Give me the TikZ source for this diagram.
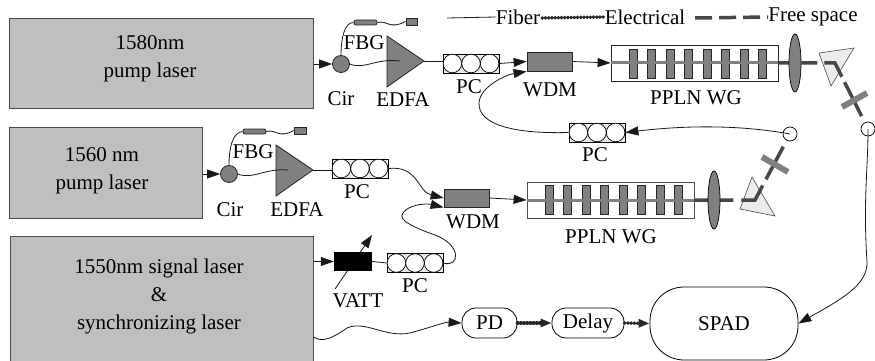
\documentclass[tikz,border=0pt]{standalone}
\usepackage{fontspec}
\setmainfont{Liberation Serif}
\usetikzlibrary{arrows.meta}
\usetikzlibrary{shapes.geometric}

\tikzset{
  every node/.style={inner sep=0pt,font=\fontsize{21}{28}\selectfont},
  laserbox/.style={draw=black!70,line width=0.7pt,fill=black!25,anchor=north west},
  part/.style={draw=black!85,line width=0.8pt,fill=black!50},
  stadium/.style={draw=black,line width=0.8pt,rounded corners=14pt},
  fiber/.style={draw=black!90,line width=0.8pt},
  fiberarrow/.style={fiber,-{Triangle[length=13pt,width=9pt]}},
  electrical/.style={draw=black!85,line width=3.4pt,line cap=round,dash pattern=on 0.6pt off 2.6pt,-{Triangle[length=11pt,width=8pt]}},
  freespace/.style={draw=black!72,line width=3.5pt},
  crossbar/.style={draw=black!50,line width=6pt},
  waveguide/.style={draw=black!50,line width=3pt},
  coupler/.style={circle,draw=black,line width=0.7pt,minimum size=14pt},
  prism/.style={draw=black!70,line width=0.6pt,fill=black!8},
  lens/.style={ellipse,draw=black,line width=0.7pt,fill=black!50,minimum width=12pt,minimum height=58pt}
}

\begin{document}
\begin{tikzpicture}[x=1pt,y=-1pt]
  % Boundary
  \useasboundingbox (0,0) rectangle (875,361);
  % Lasers
  \node[laserbox,minimum width=304pt,minimum height=90pt] (laserA) at (9,18) {};
  \node[laserbox,minimum width=193pt,minimum height=91pt] (laserB) at (9,127) {};
  \node[laserbox,minimum width=303pt,minimum height=125pt] (laserC) at (10,236) {};
  \node[align=center] (textA) at (150,58.5) {1580nm\\pump laser};
  \node[align=center] (textB) at (102,171) {1560 nm\\pump laser};
  \node[align=center] (textC) at (159,296) {1550nm signal laser\\\&\\synchronizing laser};
  % Polarization controllers
  \foreach \n/\x/\y in {pcA/471/63.5,pcB/597/132.5,pcC/360/168.5,pcD/415/263}{
    \node[draw=black,line width=0.7pt,fill=black!8,minimum width=56pt,minimum height=19pt] (\n) at (\x,\y) {};
    \foreach \k in {-18.6,0,18.6}
      \draw[line width=0.7pt,fill=white] (\x+\k,\y) circle (9.3);
  }
  % Amplifiers
  \filldraw[part] (387,36) -- (387,87) -- (424,61) -- cycle;
  \filldraw[part] (276,145) -- (276,196) -- (313,170) -- cycle;
  \coordinate (edfaAin) at (400,61);
  \coordinate (edfaAout) at (424,61);
  \coordinate (edfaBin) at (288,170);
  \coordinate (edfaBout) at (313,170);
  % Circulators and gratings
  \node[part,circle,minimum size=17pt] (cirA) at (341,64) {};
  \node[part,circle,minimum size=17pt] (cirB) at (229,174) {};
  \node[part,rounded corners=2pt,minimum width=23pt,minimum height=5pt] (fbgA) at (365.5,22.5) {};
  \node[part,rounded corners=2pt,minimum width=23pt,minimum height=5pt] (fbgB) at (254.5,131.5) {};
  \node[part,minimum width=11pt,minimum height=7pt] (endA) at (411.5,21.5) {};
  \node[part,minimum width=12pt,minimum height=7pt] (endB) at (300,130.5) {};
  % Multiplexers
  \node[part,minimum width=45pt,minimum height=19pt] (wdmA) at (549.5,61.5) {};
  \node[part,minimum width=45pt,minimum height=18pt] (wdmB) at (466.5,198) {};
  % Waveguides
  \node[draw=black!85,line width=0.8pt,minimum width=167pt,minimum height=36pt] (pplnA) at (694.5,63) {};
  \node[draw=black!70,line width=0.8pt,minimum width=167pt,minimum height=36pt] (pplnB) at (610.5,200) {};
  \foreach \x in {633,651.5,670,688.5,707,725.5,744,762.5}
    \draw[part] (\x-4,49) rectangle (\x+4,78);
  \foreach \x in {549,567.5,586,604.5,623,641.5,660,678.5}
    \draw[part] (\x-4,185) rectangle (\x+4,214);
  \draw[waveguide] (pplnA.west) -- (pplnA.east);
  \draw[waveguide] (pplnB.west) -- (pplnB.east);
  % Attenuator
  \coordinate (vattS) at (335,289);
  \coordinate (vattE) at (372,235);
  \draw[fiberarrow] (vattS) -- (vattE);
  \node[fill=black,minimum width=38pt,minimum height=19pt] (vatt) at (353,261.5) {};
  % Detection
  \node[stadium,minimum width=55pt,minimum height=30pt] (pd) at (489.5,323) {PD};
  \node[stadium,minimum width=72pt,minimum height=30pt] (delay) at (588,323) {Delay};
  \node[stadium,rounded corners=34pt,minimum width=148pt,minimum height=73pt] (spad) at (724,323.5) {SPAD};
  % Free space
  \filldraw[prism] (819,53) -- (854,48) -- (831,86) -- cycle;
  \filldraw[prism] (752,177) -- (740,209) -- (775,216) -- cycle;
  \node[coupler] (outA) at (868,129) {};
  \node[coupler] (outB) at (790,134) {};
  \coordinate (bendA) at (835,63);
  \coordinate (bendB) at (755,200);
  \draw[freespace,dash pattern=on 16pt off 7pt on 16pt off 7pt on 26pt off 6pt on 38pt off 90pt] (pplnA.east) -- (bendA) -- (outA);
  \draw[freespace,dash pattern=on 15pt off 9pt on 15pt off 8pt on 30pt off 7pt on 37pt off 90pt] (pplnB.east) -- (bendB) -- (outB);
  \node[lens] (lensA) at (795,63) {};
  \node[lens] (lensB) at (714,200) {};
  \draw[crossbar] (842,107) -- (867,93);
  \draw[crossbar] (762,157) -- (788,172);
  % Upper fibers
  \draw[fiberarrow] (laserA.east |- cirA) -- (cirA);
  \draw[fiber] (cirA.north) .. controls (341,40) and (344,22) .. (fbgA.west);
  \draw[fiber] (fbgA.east) .. controls (388,20) and (389,30) .. (endA.west);
  \draw[fiber] (cirA.east) .. controls (365,70) and (375,58) .. (edfaAin);
  \draw[fiber] (edfaAout) -- (pcA.west |- edfaAout);
  \draw[fiberarrow] (pcA.east) -- (wdmA.west);
  \draw[fiberarrow] (wdmA.east) -- (pplnA.west);
  \draw[fiberarrow] (outB.center) .. controls (735,124) and (680,126) .. (pcB.east);
  \draw[fiberarrow] (pcB.west) .. controls (515,134) and (478,125) .. (479,103) .. controls (480,87) and (505,75) .. (wdmA.south west);
  % Lower fibers
  \draw[fiberarrow] (laserB.east |- cirB) -- (cirB);
  \draw[fiber] (cirB.north) .. controls (229,150) and (232,132) .. (fbgB.west);
  \draw[fiber] (fbgB.east) .. controls (277,129) and (278,139) .. (endB.west);
  \draw[fiber] (cirB.east) .. controls (253,180) and (264,168) .. (edfaBin);
  \draw[fiber] (edfaBout) -- (pcC.west |- edfaBout);
  \draw[fiberarrow] (pcC.east) .. controls (418,165) and (418,192) .. (wdmB.west);
  \draw[fiberarrow] (wdmB.east) -- (pplnB.west);
  \draw[fiberarrow] (laserC.east |- vatt) -- (vatt.west);
  \draw[fiber] (vatt.east) -- (pcD.west);
  \draw[fiberarrow] (pcD.east) .. controls (460,268) and (462,245) .. (435,235) .. controls (415,228) and (397,220) .. (403,213) .. controls (408,205) and (425,203) .. (wdmB.south west);
  % Detection lines
  \draw[fiberarrow] (laserC.east |- 0,337) .. controls (322,343) and (333,338) .. (347,328) .. controls (365,320) and (385,338) .. (410,333) .. controls (435,326) and (445,322) .. (pd.west);
  \draw[electrical] (pd.east) -- (delay.west);
  \draw[electrical] (delay.east) -- (spad.west);
  \draw[fiberarrow] (outA.center) .. controls (868,170) and (863,200) .. (867,262) .. controls (868,285) and (840,300) .. (spad.east);
  % Legend
  \coordinate (fiberS) at (447,18);
  \coordinate (elecS) at (542,18);
  \coordinate (freeS) at (695,18);
  \node (fiberT) at (518,17) {Fiber};
  \node (elecT) at (645,17) {Electrical};
  \node (freeT) at (813,17) {Free space};
  \draw[fiber] (fiberS) -- (fiberT.west);
  \draw[electrical,-] (elecS) -- (elecT.west);
  \draw[freespace,dash pattern=on 17pt off 7pt] (freeS) -- (freeT.west);
  % Labels
  \node (fbgAT) at (364,43) {FBG};
  \node (fbgBT) at (253,152) {FBG};
  \node (cirAT) at (341,99) {Cir};
  \node (cirBT) at (230,210) {Cir};
  \node (edfaAT) at (403,100) {EDFA};
  \node (edfaBT) at (297,210) {EDFA};
  \node (pcAT) at (469,87) {PC};
  \node (pcBT) at (595,155) {PC};
  \node (pcCT) at (357,192) {PC};
  \node (pcDT) at (415,286) {PC};
  \node (wdmAT) at (550,90) {WDM};
  \node (wdmBT) at (473,222) {WDM};
  \node (pplnAT) at (696,98) {PPLN WG};
  \node (pplnBT) at (611,237) {PPLN WG};
  \node (vattT) at (358,301) {VATT};
\end{tikzpicture}
\end{document}
